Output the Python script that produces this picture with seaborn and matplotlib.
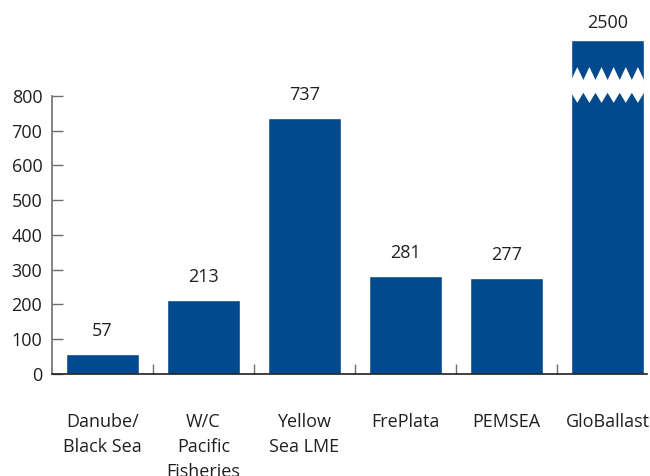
import numpy as np
import pandas as pd
import matplotlib
matplotlib.use("Agg")
import matplotlib.pyplot as plt
import seaborn as sns

# data
projects = ["Danube/\nBlack Sea", "W/C\nPacific\nFisheries", "Yellow\nSea LME",
            "FrePlata", "PEMSEA", "GloBallast"]
values = [57, 213, 737, 281, 277, 2500]
y_ticks = [0, 100, 200, 300, 400, 500, 600, 700, 800]

BLUE = "#024a8e"
TXT = "#231f20"
CAP = 961  # bars taller than this are drawn broken

sns.set_style("white")
plt.rcParams["font.family"] = ["Open Sans", "DejaVu Sans"]

df = pd.DataFrame({"project": projects, "value": values})
df["shown"] = np.minimum(df["value"], CAP)

fig = plt.figure(figsize=(6.5, 4.76), dpi=100)
ax = fig.add_axes([52 / 650, 102 / 476, 595 / 650, 374 / 476])

sns.barplot(data=df, x="project", y="shown", color=BLUE, saturation=1,
            width=0.72, ax=ax)

ax.set_xlim(-0.5, 5.39)
ax.set_ylim(0, 1076)
ax.set_xlabel("")
ax.set_ylabel("")

# value labels
for p, v in zip(ax.patches, values):
    off = 6 if v > CAP else 10
    ax.annotate(str(v), (p.get_x() + p.get_width() / 2, p.get_height()),
                xytext=(0, off), textcoords="offset points",
                ha="center", va="bottom", fontsize=13, color=TXT)

# zigzag break on the tall bar
for p, v in zip(ax.patches, values):
    if v <= CAP:
        continue
    x0, w = p.get_x(), p.get_width()
    n = 6
    xs = np.linspace(x0, x0 + w, 2 * n + 1)
    top = [846 if i % 2 == 0 else 883 for i in range(2 * n + 1)]
    bot = [809 if i % 2 == 0 else 780 for i in range(2 * n + 1)]
    px = list(xs) + list(xs[::-1])
    py = top + bot[::-1]
    ax.fill(px, py, color="white", zorder=5, lw=0)

# axes styling
for s in ["top", "right"]:
    ax.spines[s].set_visible(False)
ax.spines["left"].set_bounds(0, 800)
ax.spines["left"].set_color("#6d6e71")
ax.spines["bottom"].set_color("#231f20")
ax.spines["left"].set_linewidth(1.2)
ax.spines["bottom"].set_linewidth(1.2)

ax.set_yticks(y_ticks)
ax.set_yticklabels([str(t) for t in y_ticks], fontsize=13, color=TXT)
ax.tick_params(axis="y", left=True, direction="in", length=8, width=1,
               color="#6d6e71", pad=7)

ax.set_xticks(range(len(projects)))
ax.set_xticklabels(projects, fontsize=13, color=TXT, linespacing=1.5,
                   va="top")
ax.tick_params(axis="x", which="major", bottom=True, length=0, pad=28)
ax.set_xticks(np.arange(0.5, 5, 1), minor=True)
ax.tick_params(axis="x", which="minor", bottom=True, direction="in",
               length=7, width=1, color="#6d6e71")

fig.savefig("out.png", dpi=100)
